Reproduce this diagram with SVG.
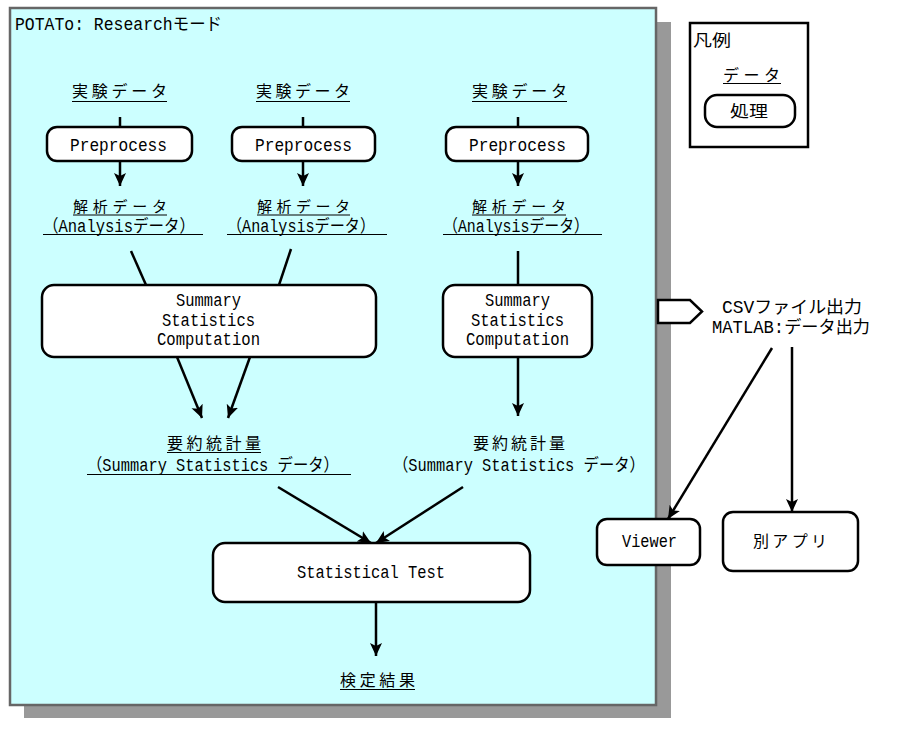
<svg xmlns="http://www.w3.org/2000/svg" width="902" height="731" viewBox="0 0 902 731">
<defs>
<style>
text{font-family:"Liberation Mono","Noto Sans CJK JP",monospace;font-size:17.5px;fill:#000}
.j{font-family:"Noto Sans CJK JP","Liberation Mono",sans-serif;font-size:16px}
.s{font-size:15px}
.box{fill:#fff;stroke:#000;stroke-width:2.5}
.ul{stroke:#000;stroke-width:1.2}
.c{stroke:#000;stroke-width:2.5;fill:none}
</style>
<marker id="ah" markerUnits="userSpaceOnUse" markerWidth="14" markerHeight="14" viewBox="0 0 14 14" refX="13" refY="7" orient="auto">
<path d="M0,1 L13,7 L0,13 L3,7 Z" fill="#000"/>
</marker>
</defs>

<g id="panel">
<rect x="24" y="22" width="647" height="696" fill="#999"/>
<rect x="10" y="8" width="646" height="697" fill="#ccffff" stroke="#666" stroke-width="2.5"/>
<text x="15" y="30" textLength="207" lengthAdjust="spacingAndGlyphs">POTATo: Researchモード</text>
</g>

<g id="legend">
<rect x="690" y="23" width="118" height="124" fill="#fff" stroke="#000" stroke-width="2.5"/>
<text class="j" x="693" y="46" textLength="38" lengthAdjust="spacingAndGlyphs">凡例</text>
<text class="j" x="723" y="81" textLength="57">データ</text>
<line class="ul" x1="723" y1="83.5" x2="781" y2="83.5"/>
<rect class="box" x="705" y="95" width="90" height="32" rx="12"/>
<text class="j" x="730" y="117" textLength="38" lengthAdjust="spacingAndGlyphs">処理</text>
</g>

<g id="connectors">
<line class="c" x1="120" y1="117" x2="120" y2="127"/>
<line class="c" x1="303" y1="117" x2="303" y2="127"/>
<line class="c" x1="518" y1="117" x2="518" y2="127"/>
<line class="c" x1="120" y1="161" x2="120" y2="186" marker-end="url(#ah)"/>
<line class="c" x1="303" y1="161" x2="303" y2="186" marker-end="url(#ah)"/>
<line class="c" x1="518" y1="161" x2="518" y2="186" marker-end="url(#ah)"/>
<line class="c" x1="131" y1="251" x2="146" y2="285"/>
<line class="c" x1="291" y1="249" x2="279" y2="285"/>
<line class="c" x1="518" y1="251" x2="518" y2="285"/>
<line class="c" x1="177" y1="357" x2="202" y2="418" marker-end="url(#ah)"/>
<line class="c" x1="250" y1="357" x2="228" y2="418" marker-end="url(#ah)"/>
<line class="c" x1="518" y1="357" x2="518" y2="416" marker-end="url(#ah)"/>
<line class="c" x1="278" y1="487" x2="371" y2="543" marker-end="url(#ah)"/>
<line class="c" x1="463" y1="487" x2="376" y2="543" marker-end="url(#ah)"/>
<line class="c" x1="376" y1="602" x2="376" y2="656" marker-end="url(#ah)"/>
<line class="c" x1="772" y1="348" x2="668" y2="519" marker-end="url(#ah)"/>
<line class="c" x1="792" y1="347" x2="792" y2="512" marker-end="url(#ah)"/>
</g>

<g id="data1">
<text class="j" x="72" y="97" textLength="95">実験データ</text>
<line class="ul" x1="72" y1="101.5" x2="167" y2="101.5"/>
</g>
<g id="data2">
<text class="j" x="256" y="97" textLength="94">実験データ</text>
<line class="ul" x1="256" y1="101.5" x2="350" y2="101.5"/>
</g>
<g id="data3">
<text class="j" x="472" y="97" textLength="95">実験データ</text>
<line class="ul" x1="472" y1="101.5" x2="567" y2="101.5"/>
</g>

<g id="pre1">
<rect class="box" x="47" y="127" width="145" height="34" rx="10"/>
<text x="70" y="151" textLength="97" lengthAdjust="spacingAndGlyphs">Preprocess</text>
</g>
<g id="pre2">
<rect class="box" x="232" y="127" width="143" height="34" rx="10"/>
<text x="255" y="151" textLength="97" lengthAdjust="spacingAndGlyphs">Preprocess</text>
</g>
<g id="pre3">
<rect class="box" x="446" y="127" width="142" height="34" rx="10"/>
<text x="469" y="151" textLength="97" lengthAdjust="spacingAndGlyphs">Preprocess</text>
</g>

<g id="ana1">
<text class="j s" x="73" y="212" textLength="94">解析データ</text>
<line class="ul" x1="73" y1="215" x2="167" y2="215"/>
<text x="43" y="232" textLength="152" lengthAdjust="spacingAndGlyphs">（Analysisデータ）</text>
<line class="ul" x1="43" y1="234.5" x2="203" y2="234.5"/>
</g>
<g id="ana2">
<text class="j s" x="257" y="212" textLength="93">解析データ</text>
<line class="ul" x1="257" y1="215" x2="350" y2="215"/>
<text x="227" y="232" textLength="148" lengthAdjust="spacingAndGlyphs">（Analysisデータ）</text>
<line class="ul" x1="227" y1="234.5" x2="387" y2="234.5"/>
</g>
<g id="ana3">
<text class="j s" x="472" y="212" textLength="94">解析データ</text>
<line class="ul" x1="472" y1="215" x2="566" y2="215"/>
<text x="443" y="232" textLength="146" lengthAdjust="spacingAndGlyphs">（Analysisデータ）</text>
<line class="ul" x1="443" y1="234.5" x2="602" y2="234.5"/>
</g>

<g id="ssc12">
<rect class="box" x="42" y="285" width="334" height="72" rx="12"/>
<text x="176" y="306" textLength="65" lengthAdjust="spacingAndGlyphs">Summary</text>
<text x="162" y="326" textLength="93" lengthAdjust="spacingAndGlyphs">Statistics</text>
<text x="157" y="345" textLength="103" lengthAdjust="spacingAndGlyphs">Computation</text>
</g>
<g id="ssc3">
<rect class="box" x="443" y="285" width="149" height="72" rx="12"/>
<text x="485" y="306" textLength="65" lengthAdjust="spacingAndGlyphs">Summary</text>
<text x="471" y="326" textLength="93" lengthAdjust="spacingAndGlyphs">Statistics</text>
<text x="466" y="345" textLength="103" lengthAdjust="spacingAndGlyphs">Computation</text>
</g>

<g id="sum12">
<text class="j" x="167" y="449" textLength="94">要約統計量</text>
<line class="ul" x1="167" y1="452.5" x2="261" y2="452.5"/>
<text x="87" y="471" textLength="252" lengthAdjust="spacingAndGlyphs">（Summary Statistics データ）</text>
<line class="ul" x1="87" y1="474.5" x2="351" y2="474.5"/>
</g>
<g id="sum3">
<text class="j" x="473" y="449" textLength="92">要約統計量</text>
<text x="393" y="471" textLength="252" lengthAdjust="spacingAndGlyphs">（Summary Statistics データ）</text>
</g>

<g id="stattest">
<rect class="box" x="213" y="543" width="317" height="59" rx="12"/>
<text x="297" y="578" textLength="148" lengthAdjust="spacingAndGlyphs">Statistical Test</text>
</g>
<g id="result">
<text class="j" x="340" y="686" textLength="75">検定結果</text>
<line class="ul" x1="340" y1="689.5" x2="415" y2="689.5"/>
</g>

<g id="export">
<path d="M658,300 L690,300 L702,311.5 L690,323 L658,323 Z" fill="#fff" stroke="#000" stroke-width="2.5"/>
<text x="722" y="313" textLength="140" lengthAdjust="spacingAndGlyphs">CSVファイル出力</text>
<text x="712" y="333" textLength="158" lengthAdjust="spacingAndGlyphs">MATLAB:データ出力</text>
</g>

<g id="viewer">
<rect class="box" x="597" y="519" width="103" height="46" rx="10"/>
<text x="622" y="547" textLength="55" lengthAdjust="spacingAndGlyphs">Viewer</text>
</g>
<g id="otherapp">
<rect class="box" x="723" y="512" width="135" height="59" rx="10"/>
<text class="j" x="753" y="547" textLength="74">別アプリ</text>
</g>
</svg>
